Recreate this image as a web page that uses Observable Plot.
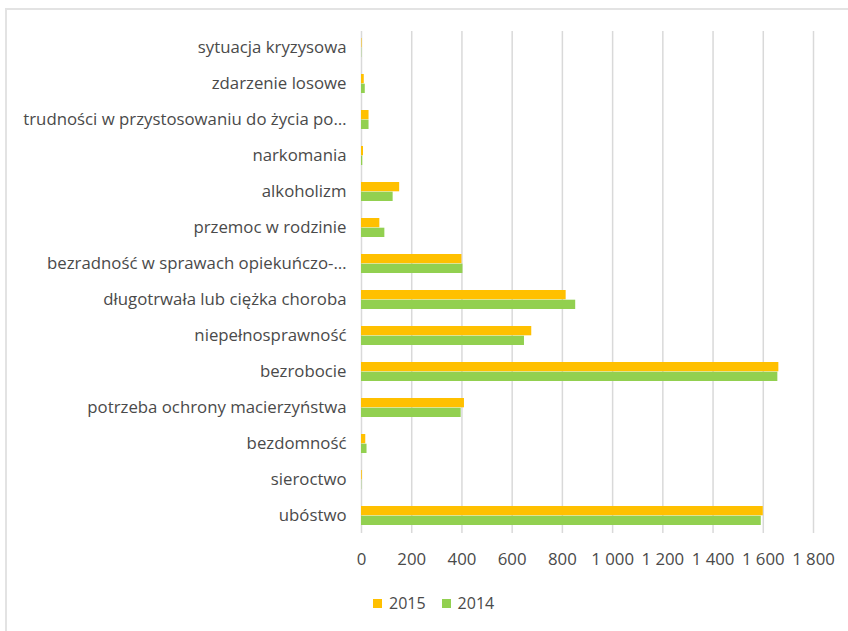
<!DOCTYPE html>
<html>
<head>
<meta charset="utf-8">
<script src="https://cdn.jsdelivr.net/npm/d3@7"></script>
<script src="https://cdn.jsdelivr.net/npm/@observablehq/plot@0.6"></script>
<style>
  html, body { margin: 0; padding: 0; background: #fff; }
  body { width: 848px; height: 631px; position: relative; overflow: hidden; font-family: "Open Sans", Lato, sans-serif; }
  #frame { position: absolute; left: 5px; top: 8px; width: 900px; height: 700px; border: 2px solid #e3e3e3; box-sizing: border-box; }
  #chart { position: absolute; left: 0; top: 0; }
  #legend { position: absolute; left: 373px; top: 592px; display: flex; align-items: center; font-size: 16px; color: #4a4a4a; }
  #legend .sw { width: 9px; height: 9px; display: inline-block; margin-right: 7px; }
  #legend .item { display: flex; align-items: center; margin-right: 16px; }
</style>
</head>
<body>
<div id="frame"></div>
<div id="chart"></div>
<div id="legend"></div>
<script>
const categories = [
  "sytuacja kryzysowa",
  "zdarzenie losowe",
  "trudności w przystosowaniu do życia po…",
  "narkomania",
  "alkoholizm",
  "przemoc w rodzinie",
  "bezradność w sprawach opiekuńczo-…",
  "długotrwała lub ciężka choroba",
  "niepełnosprawność",
  "bezrobocie",
  "potrzeba ochrony macierzyństwa",
  "bezdomność",
  "sieroctwo",
  "ubóstwo"
];
const values2015 = [2, 11, 30, 8, 152, 73, 400, 815, 678, 1662, 410, 17, 3, 1600];
const values2014 = [1, 15, 30, 5, 126, 93, 404, 853, 649, 1658, 397, 22, 1, 1592];
const xTicks = [0, 200, 400, 600, 800, 1000, 1200, 1400, 1600, 1800];
const seriesNames = ["2015", "2014"];
const seriesColors = ["#FFC000", "#92D050"];

const rows2015 = categories.map((c, i) => ({category: c, value: values2015[i]}));
const rows2014 = categories.map((c, i) => ({category: c, value: values2014[i]}));

const fmt = d3.formatLocale({decimal: ",", thousands: " ", grouping: [3], currency: ["", " zł"]}).format(",d");

const chart = Plot.plot({
  width: 848,
  height: 580,
  marginLeft: 361,
  marginRight: 35,
  marginTop: 31,
  marginBottom: 47,
  style: {fontFamily: "'Open Sans', Lato, sans-serif", fontSize: "16.8px", color: "#4a4a4a", background: "transparent"},
  x: {domain: [0, 1800], ticks: xTicks, tickFormat: fmt, tickSize: 0, tickPadding: 20, label: null},
  y: {domain: categories, paddingInner: 0.47, paddingOuter: 0.2, tickSize: 0, tickPadding: 15, label: null},
  marks: [
    Plot.ruleX(xTicks, {stroke: "#d9d9d9", strokeWidth: 1.5}),
    Plot.barX(rows2015, {y: "category", x: "value", fill: seriesColors[0], insetBottom: 9.7}),
    Plot.barX(rows2014, {y: "category", x: "value", fill: seriesColors[1], insetTop: 9.7})
  ]
});
document.getElementById("chart").appendChild(chart);

const legend = document.getElementById("legend");
seriesNames.forEach((n, i) => {
  const item = document.createElement("span");
  item.className = "item";
  const sw = document.createElement("span");
  sw.className = "sw";
  sw.style.background = seriesColors[i];
  item.appendChild(sw);
  item.appendChild(document.createTextNode(n));
  legend.appendChild(item);
});
</script>
</body>
</html>
